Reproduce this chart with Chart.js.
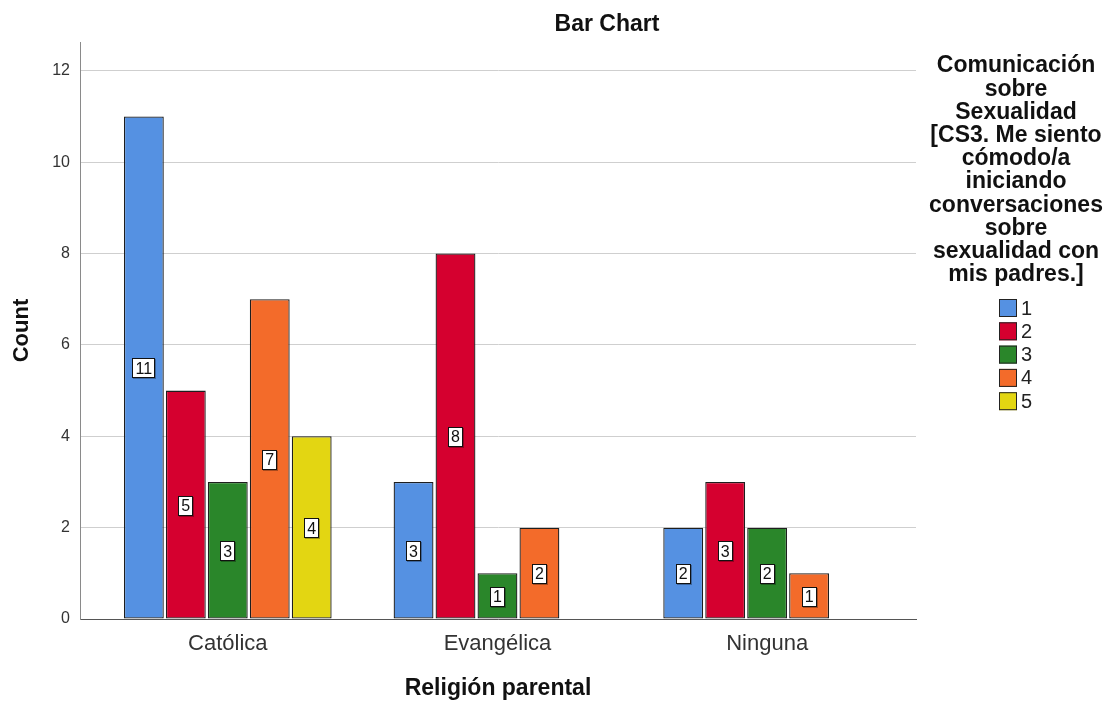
<!DOCTYPE html>
<html lang="es">
<head>
    <meta charset="UTF-8">
    <title>Bar Chart</title>
    <style>
        body { margin: 0; background: #fff; }
        canvas { display: block; }
    </style>
    <script src="https://cdn.jsdelivr.net/npm/chart.js"></script>
</head>
<body>
<canvas id="chart" width="1107" height="702"></canvas>
<script>
const categories = ["Católica", "Evangélica", "Ninguna"];
const seriesNames = ["1", "2", "3", "4", "5"];
const values1 = [11, 3, 2];
const values2 = [5, 8, 3];
const values3 = [3, 1, 2];
const values4 = [7, 2, 1];
const values5 = [4, null, null];
const yTicks = [0, 2, 4, 6, 8, 10, 12];
const legendTitle = ["Comunicación", "sobre", "Sexualidad", "[CS3. Me siento", "cómodo/a",
    "iniciando", "conversaciones", "sobre", "sexualidad con", "mis padres.]"];

const colors = ["#5591e2", "#d5002f", "#2a862a", "#f36b2a", "#e3d612"];
const FONT = "'Liberation Sans', Arial, sans-serif";

const allValues = [values1, values2, values3, values4, values5];

const datasets = allValues.map((vals, s) => ({
    label: seriesNames[s],
    data: vals.map((v, i) => ({ x: i, y: v })),
    backgroundColor: colors[s],
    borderColor: "#1e1e1e",
    borderWidth: 1.3,
    borderSkipped: false,
    categoryPercentage: 0.778,
    barPercentage: 0.95
}));

// value boxes, title and legend
const extras = {
    id: "extras",
    afterDatasetsDraw(chart) {
        const ctx = chart.ctx;
        ctx.save();
        ctx.font = "16px " + FONT;
        ctx.textAlign = "center";
        ctx.textBaseline = "middle";
        chart.data.datasets.forEach((ds, d) => {
            const meta = chart.getDatasetMeta(d);
            meta.data.forEach((bar, i) => {
                const v = ds.data[i].y;
                if (v == null) return;
                const cy = (bar.y + bar.base) / 2 + 1;
                const txt = String(v);
                const w = Math.round(ctx.measureText(txt).width + 6);
                const h = 20;
                const x0 = Math.round(bar.x - w / 2), y0 = Math.round(cy - h / 2);
                ctx.fillStyle = "rgba(0,0,0,0.3)";
                ctx.fillRect(x0 + 1, y0 + 1, w, h);
                ctx.fillStyle = "#fff";
                ctx.fillRect(x0, y0, w, h);
                ctx.strokeStyle = "#111";
                ctx.lineWidth = 1;
                ctx.strokeRect(x0 + 0.5, y0 + 0.5, w - 1, h - 1);
                ctx.fillStyle = "#111";
                ctx.fillText(txt, bar.x, cy + 1);
            });
        });

        // chart title
        ctx.font = "bold 23px " + FONT;
        ctx.fillStyle = "#111";
        ctx.fillText("Bar Chart", 607, 25);

        // legend
        ctx.font = "bold 23px " + FONT;
        legendTitle.forEach((line, i) => {
            ctx.fillText(line, 1016, 66 + i * 23.2);
        });
        ctx.font = "20px " + FONT;
        ctx.textAlign = "left";
        seriesNames.forEach((name, i) => {
            const y = 308 + i * 23.3;
            ctx.fillStyle = colors[i];
            ctx.fillRect(999, y - 9, 18, 18);
            ctx.strokeStyle = "#222";
            ctx.strokeRect(999.5, y - 8.5, 17, 17);
            ctx.fillStyle = "#222";
            ctx.fillText(name, 1021, y + 1);
        });
        ctx.restore();
    }
};

new Chart(document.getElementById("chart"), {
    type: "bar",
    data: { datasets: datasets },
    plugins: [extras],
    options: {
        responsive: false,
        animation: false,
        devicePixelRatio: 1,
        layout: { padding: { top: 42, right: 191, left: 0, bottom: 0 } },
        plugins: {
            legend: { display: false },
            tooltip: { enabled: false }
        },
        scales: {
            x: {
                type: "linear",
                offset: false,
                min: -0.548,
                max: 2.552,
                afterBuildTicks: scale => { scale.ticks = categories.map((c, i) => ({ value: i })); },
                afterFit: scale => { scale.height = 83; },
                grid: { display: false, drawTicks: false },
                border: { color: "#555", width: 1 },
                ticks: {
                    padding: 12,
                    color: "#333",
                    font: { family: FONT, size: 22 },
                    callback: v => categories[v]
                },
                title: {
                    display: true,
                    text: "Religión parental",
                    color: "#111",
                    font: { family: FONT, size: 23, weight: "bold" },
                    padding: { top: 0, bottom: 0 }
                }
            },
            y: {
                min: 0,
                max: 12.63,
                afterBuildTicks: scale => { scale.ticks = yTicks.map(v => ({ value: v })); },
                afterFit: scale => { scale.width = 80; },
                grid: { color: "#cfcfcf", lineWidth: 1, drawTicks: false },
                border: { color: "#8a8a8a", width: 1 },
                ticks: {
                    padding: 10,
                    color: "#333",
                    font: { family: FONT, size: 16 }
                },
                title: {
                    display: true,
                    text: "Count",
                    color: "#111",
                    font: { family: FONT, size: 22, weight: "bold" },
                    padding: { top: 9, bottom: 0 }
                }
            }
        }
    }
});
</script>
</body>
</html>
